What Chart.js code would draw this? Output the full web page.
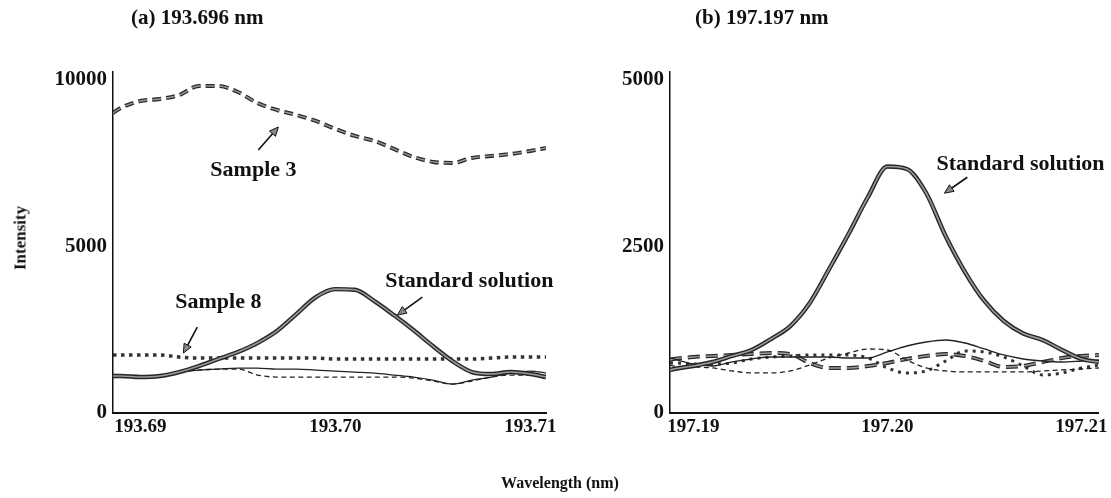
<!DOCTYPE html>
<html>
<head>
<meta charset="utf-8">
<script src="https://cdn.jsdelivr.net/npm/chart.js@4.4.1/dist/chart.umd.min.js"></script>
<style>
  body { margin: 0; background: #fff; }
  #wrap { position: relative; width: 1111px; height: 498px; font-family: 'Liberation Serif', 'Times New Roman', serif; font-weight: bold; color: #111; }
  canvas { position: absolute; top: 0; }
  .t { position: absolute; white-space: nowrap; line-height: 1; }
</style>
</head>
<body>
<div id="wrap">
  <canvas id="leftChart" width="560" height="498" style="left:0"></canvas>
  <canvas id="rightChart" width="551" height="498" style="left:560px"></canvas>
  <div class="t" style="left:131px; top:7px; font-size:21px">(a) 193.696 nm</div>
  <div class="t" style="left:695px; top:7px; font-size:21px">(b) 197.197 nm</div>
  <div class="t" style="left:20px; top:238px; font-size:17px; transform:translate(-50%,-50%) rotate(-90deg)">Intensity</div>
  <div class="t" style="left:560px; top:483px; font-size:16px; transform:translate(-50%,-50%)">Wavelength (nm)</div>
</div>
<script>
// (a) 193.696 nm
const leftWl = [193.6886, 193.689, 193.690, 193.691, 193.692, 193.693, 193.694, 193.695, 193.696, 193.697, 193.698,
  193.699, 193.700, 193.701, 193.702, 193.703, 193.704, 193.705, 193.706, 193.707, 193.708, 193.709, 193.710, 193.7108];
const leftStandard = [1110, 1110, 1080, 1110, 1230, 1410, 1620, 1830, 2100, 2460, 2970, 3480, 3720, 3700, 3360, 2940,
  2490, 2010, 1560, 1230, 1170, 1230, 1170, 1080];
const leftSample3 = [9010, 9160, 9370, 9430, 9550, 9820, 9820, 9640, 9310, 9100, 8950, 8770, 8530, 8320, 8170, 7930,
  7690, 7540, 7510, 7660, 7720, 7780, 7870, 7960];
const leftSample8 = [1740, 1740, 1740, 1740, 1680, 1650, 1650, 1650, 1650, 1650, 1650, 1650, 1620, 1620, 1620, 1620,
  1620, 1620, 1620, 1620, 1650, 1680, 1680, 1680];
const leftSolid = [1110, 1110, 1080, 1110, 1230, 1290, 1320, 1350, 1350, 1320, 1320, 1290, 1260, 1230, 1200, 1140,
  1080, 990, 870, 990, 1080, 1200, 1260, 1200];
const leftDashed = [1110, 1110, 1080, 1110, 1230, 1290, 1320, 1320, 1140, 1080, 1080, 1080, 1080, 1080, 1080, 1080,
  1050, 960, 870, 960, 1080, 1140, 1140, 1110];
const leftXTicks = [193.69, 193.70, 193.71];
const leftYTicks = [0, 5000, 10000];

// (b) 197.197 nm
const rightWl = [197.1888, 197.189, 197.190, 197.191, 197.192, 197.193, 197.194, 197.195, 197.196, 197.197, 197.198,
  197.199, 197.200, 197.201, 197.202, 197.203, 197.204, 197.205, 197.206, 197.207, 197.208, 197.209, 197.210, 197.2109];
const rightStandard = [646, 661, 706, 766, 856, 946, 1111, 1306, 1652, 2162, 2688, 3243, 3700, 3664, 3303, 2658,
  2117, 1682, 1381, 1194, 1096, 946, 811, 766];
const rightSolid = [826, 811, 736, 706, 766, 811, 841, 841, 841, 841, 826, 826, 916, 1006, 1066, 1096, 1051, 961,
  871, 811, 781, 766, 781, 796];
const rightDashed = [721, 706, 691, 676, 631, 601, 601, 631, 721, 826, 901, 961, 946, 796, 676, 631, 616, 616, 616,
  616, 631, 646, 661, 676];
const rightLongDash = [796, 811, 841, 856, 871, 886, 901, 886, 751, 676, 676, 706, 751, 811, 856, 886, 856, 781, 691,
  706, 766, 826, 856, 871];
const rightDotted = [751, 751, 736, 736, 751, 811, 841, 856, 871, 871, 871, 826, 676, 601, 631, 781, 931, 916, 841,
  706, 571, 601, 676, 721];
const rightXTicks = [197.19, 197.20, 197.21];
const rightYTicks = [0, 2500, 5000];

// labels with arrows, in data units: text position, arrow tail, arrow head
const leftNotes = [
  { text: 'Sample 3', at: [193.6958, 7300], from: [193.69605, 7900], to: [193.69708, 8590] },
  { text: 'Sample 8', at: [193.6940, 3330], from: [193.69292, 2580], to: [193.69221, 1800] },
  { text: 'Standard solution', at: [193.70687, 3960], from: [193.70446, 3480], to: [193.70318, 2940] }
];
const rightNotes = [
  { text: 'Standard solution', at: [197.20686, 3740], from: [197.20412, 3540], to: [197.20294, 3300] }
];

const xTickFont = { family: 'Liberation Serif', size: 19, weight: 'bold' };
const yTickFont = { family: 'Liberation Serif', size: 21, weight: 'bold' };

function line(xs, ys, color, width, dash) {
  return {
    data: xs.map((x, i) => ({ x: x, y: ys[i] })),
    borderColor: color,
    borderWidth: width,
    borderDash: dash || [],
    pointRadius: 0,
    fill: false,
    cubicInterpolationMode: 'monotone'
  };
}

function notesPlugin(notes) {
  return {
    id: 'notes',
    afterDatasetsDraw(chart) {
      const ctx = chart.ctx;
      const sx = chart.scales.x, sy = chart.scales.y;
      ctx.save();
      ctx.font = 'bold 22px "Liberation Serif"';
      ctx.fillStyle = '#111';
      ctx.textAlign = 'center';
      ctx.textBaseline = 'middle';
      notes.forEach(n => {
        ctx.fillText(n.text, sx.getPixelForValue(n.at[0]), sy.getPixelForValue(n.at[1]));
        const x1 = sx.getPixelForValue(n.from[0]), y1 = sy.getPixelForValue(n.from[1]);
        const x2 = sx.getPixelForValue(n.to[0]), y2 = sy.getPixelForValue(n.to[1]);
        const a = Math.atan2(y2 - y1, x2 - x1);
        ctx.strokeStyle = '#111';
        ctx.lineWidth = 1.6;
        ctx.beginPath();
        ctx.moveTo(x1, y1);
        ctx.lineTo(x2 - 6 * Math.cos(a), y2 - 6 * Math.sin(a));
        ctx.stroke();
        ctx.beginPath();
        ctx.moveTo(x2, y2);
        ctx.lineTo(x2 - 9 * Math.cos(a) + 4 * Math.sin(a), y2 - 9 * Math.sin(a) - 4 * Math.cos(a));
        ctx.lineTo(x2 - 9 * Math.cos(a) - 4 * Math.sin(a), y2 - 9 * Math.sin(a) + 4 * Math.cos(a));
        ctx.closePath();
        ctx.fillStyle = '#888';
        ctx.fill();
        ctx.lineWidth = 1;
        ctx.stroke();
        ctx.fillStyle = '#111';
      });
      ctx.restore();
    }
  };
}

function makeScales(xmin, xmax, xTicks, ymax, yTicks, yWidth) {
  return {
    x: {
      type: 'linear', min: xmin, max: xmax,
      grid: { display: false, drawTicks: false },
      border: { display: true, color: '#111', width: 2 },
      afterBuildTicks: s => { s.ticks = xTicks.map(v => ({ value: v })); },
      afterFit: s => { s.height = 85; },
      ticks: { autoSkip: false, maxRotation: 0, padding: 3, color: '#111', font: xTickFont,
        callback: v => Number(v).toFixed(2) }
    },
    y: {
      min: 0, max: ymax,
      grid: { display: false, drawTicks: false },
      border: { display: true, color: '#111', width: 1.5 },
      afterBuildTicks: s => { s.ticks = yTicks.map(v => ({ value: v })); },
      afterFit: s => { s.width = yWidth; },
      ticks: { autoSkip: false, padding: 6, color: '#111', font: yTickFont, callback: v => String(v) }
    }
  };
}

new Chart(document.getElementById('leftChart').getContext('2d'), {
  type: 'line',
  data: {
    datasets: [
      line(leftWl, leftStandard, '#9a9a9a', 1.6),
      line(leftWl, leftStandard, '#262626', 4.4),
      line(leftWl, leftSample3, '#9a9a9a', 1.4, [9, 5]),
      line(leftWl, leftSample3, '#2a2a2a', 4, [9, 5]),
      line(leftWl, leftSample8, '#333', 3.5, [3.5, 4.5]),
      line(leftWl, leftSolid, '#222', 1.3),
      line(leftWl, leftDashed, '#222', 1.3, [5, 3.5])
    ]
  },
  options: {
    responsive: false,
    animation: false,
    devicePixelRatio: 1,
    layout: { padding: { left: 0, right: 13, top: 72, bottom: 0 } },
    plugins: { legend: { display: false }, tooltip: { enabled: false } },
    scales: makeScales(193.6886, 193.7108, leftXTicks, 10240, leftYTicks, 113)
  },
  plugins: [notesPlugin(leftNotes)]
});

new Chart(document.getElementById('rightChart').getContext('2d'), {
  type: 'line',
  data: {
    datasets: [
      line(rightWl, rightStandard, '#9a9a9a', 1.6),
      line(rightWl, rightStandard, '#262626', 4.4),
      line(rightWl, rightSolid, '#222', 1.3),
      line(rightWl, rightDashed, '#222', 1.3, [5, 3.5]),
      line(rightWl, rightLongDash, '#9a9a9a', 1.4, [12, 6]),
      line(rightWl, rightLongDash, '#2a2a2a', 4, [12, 6]),
      line(rightWl, rightDotted, '#333', 3, [3, 5])
    ]
  },
  options: {
    responsive: false,
    animation: false,
    devicePixelRatio: 1,
    layout: { padding: { left: 0, right: 11, top: 72, bottom: 0 } },
    plugins: { legend: { display: false }, tooltip: { enabled: false } },
    scales: makeScales(197.1888, 197.2109, rightXTicks, 5120, rightYTicks, 110)
  },
  plugins: [notesPlugin(rightNotes)]
});
</script>
</body>
</html>
